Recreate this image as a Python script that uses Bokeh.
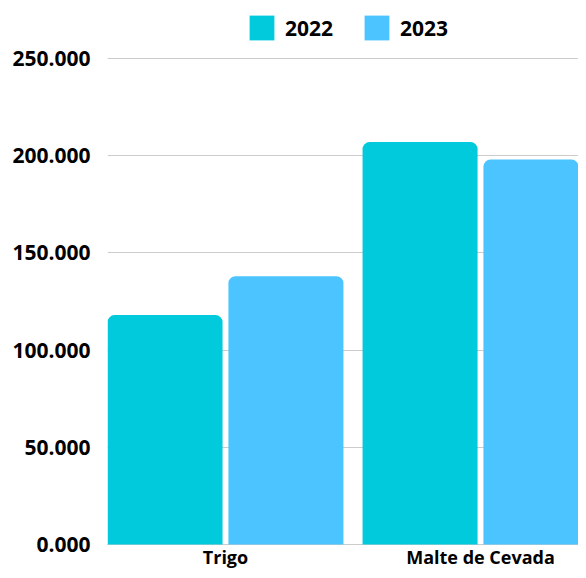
from bokeh.plotting import figure
from bokeh.models import Range1d, FixedTicker, ColumnDataSource, Legend, LegendItem
from bokeh.embed import file_html
from bokeh.resources import INLINE

# ---- data ----
categories = ["Trigo", "Malte de Cevada"]
years = ["2022", "2023"]
values_2022 = [118000, 207000]
values_2023 = [138000, 198000]
y_ticks = [0, 50000, 100000, 150000, 200000, 250000]
y_tick_labels = ["0.000", "50.000", "100.000", "150.000", "200.000", "250.000"]

# ---- style ----
colors = ["#00CADB", "#4BC4FF"]
FONT = "Open Sans"
FS = "21px"

p = figure(width=578, height=570, output_backend="svg", toolbar_location=None,
           x_range=Range1d(-0.4627, 1.3843), y_range=Range1d(-13374, 279835),
           min_border_left=107, min_border_right=0, min_border_top=0, min_border_bottom=0)
p.outline_line_color = None
p.background_fill_color = "white"
p.border_fill_color = "white"

xs = list(range(len(categories)))
offset = 0.237
bar_w = 0.451
src1 = ColumnDataSource(dict(x=[i - offset for i in xs], top=values_2022))
src2 = ColumnDataSource(dict(x=[i + offset for i in xs], top=values_2023))
r1 = p.vbar(x="x", top="top", bottom=0, width=bar_w, source=src1,
            fill_color=colors[0], line_color=None, border_radius=(7, 7, 0, 0))
r2 = p.vbar(x="x", top="top", bottom=0, width=bar_w, source=src2,
            fill_color=colors[1], line_color=None, border_radius=(7, 7, 0, 0))

legend = Legend(items=[LegendItem(label=years[0], renderers=[r1]),
                       LegendItem(label=years[1], renderers=[r2])],
                location=(139, 527), orientation="horizontal",
                glyph_width=31, glyph_height=31, label_standoff=8, spacing=28,
                label_text_font=FONT, label_text_font_size=FS,
                label_text_font_style="bold", label_text_color="#000000",
                padding=0, margin=0, border_line_color=None,
                background_fill_alpha=0)
p.add_layout(legend)

# y axis
p.yaxis.ticker = FixedTicker(ticks=y_ticks)
p.yaxis.major_label_overrides = dict(zip(y_ticks, y_tick_labels))
p.yaxis.axis_line_color = None
p.yaxis.major_tick_line_color = None
p.yaxis.minor_tick_line_color = None
p.yaxis.major_tick_out = 0
p.yaxis.major_tick_in = 0
p.yaxis.major_label_standoff = 17
p.yaxis.major_label_text_font = FONT
p.yaxis.major_label_text_font_size = FS
p.yaxis.major_label_text_font_style = "bold"
p.yaxis.major_label_text_color = "#000000"

# x axis
p.xaxis.fixed_location = 0
p.xaxis.ticker = FixedTicker(ticks=xs)
p.xaxis.major_label_overrides = dict(zip(xs, categories))
p.xaxis.axis_line_color = "#A0A0A0"
p.xaxis.major_tick_line_color = None
p.xaxis.minor_tick_line_color = None
p.xaxis.major_tick_out = 0
p.xaxis.major_tick_in = 0
p.xaxis.major_label_standoff = 0
p.xaxis.major_label_text_font = FONT
p.xaxis.major_label_text_font_size = "18px"
p.xaxis.major_label_text_font_style = "bold"
p.xaxis.major_label_text_color = "#000000"
p.xaxis.level = "underlay"

p.xgrid.visible = False
p.ygrid.ticker = FixedTicker(ticks=y_ticks)
p.ygrid.grid_line_color = "#CCCCCC"
p.ygrid.grid_line_width = 1

open("out.html", "w").write(file_html(p, INLINE))
